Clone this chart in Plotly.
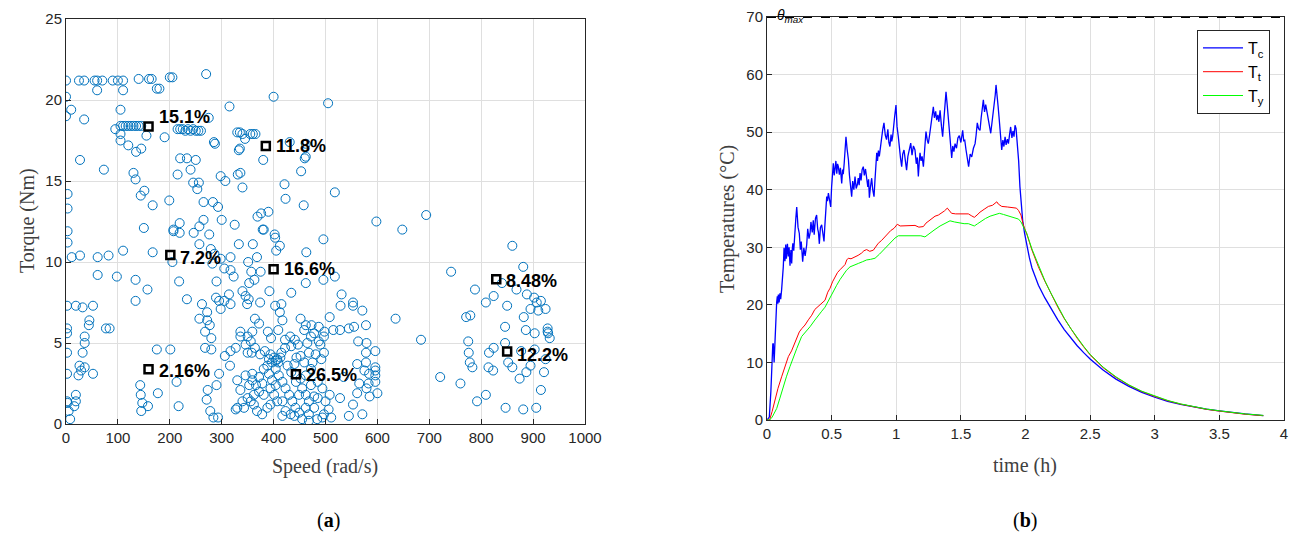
import plotly.graph_objects as go

# ---------------- (a) operating points ----------------
speed = [
    0, 25, 35, 55, 60, 70, 90, 100, 110, 140,
    160, 165, 200, 205, 270, 175, 180, 110, 60, 0,
    400, 505, 10, 105, 315, 0, 35, 275, 105, 110,
    115, 120, 125, 130, 135, 140, 145, 95, 105, 105,
    120, 135, 145, 155, 190, 215, 220, 225, 230, 235,
    240, 245, 250, 255, 260, 285, 330, 335, 340, 345,
    355, 360, 365, 335, 380, 431, 460, 453, 421, 423,
    458, 462, 462, 518, 598, 648, 694, 496, 27, 73,
    3, 3, 3, 3, 130, 134, 144, 151, 167, 150,
    220, 233, 250, 240, 215, 245, 256, 253, 199, 265,
    283, 293, 298, 307, 287, 333, 331, 336, 340, 369,
    376, 390, 379, 219, 265, 300, 325, 207, 207, 246,
    276, 402, 2, 2, 2, 2, 2, 2, 3, 5,
    8, 11, 27, 19, 32, 52, 45, 44, 36, 36,
    32, 26, 36, 29, 24, 52, 19, 19, 16, 61,
    61, 82, 77, 84, 110, 98, 134, 134, 157, 167,
    175, 201, 143, 144, 147, 145, 158, 177, 213, 217,
    205, 218, 233, 219, 257, 257, 262, 257, 272, 268,
    277, 280, 268, 280, 272, 273, 271, 278, 284, 293,
    290, 295, 286, 279, 282, 298, 290, 305, 317, 323,
    333, 317, 340, 352, 349, 336, 336, 327, 317, 306,
    316, 330, 330, 327, 317, 305, 295, 298, 314, 289,
    351, 360, 368, 357, 363, 375, 353, 346, 374, 364,
    372, 359, 350, 356, 346, 350, 358, 364, 374, 383,
    389, 395, 409, 417, 412, 403, 415, 434, 392, 405,
    412, 403, 381, 422, 432, 441, 447, 434, 422, 415,
    444, 452, 459, 468, 465, 472, 459, 452, 462, 487,
    490, 497, 478, 481, 475, 472, 462, 472, 485, 494,
    485, 478, 468, 455, 449, 442, 436, 430, 423, 417,
    410, 404, 397, 391, 388, 394, 401, 407, 413, 404,
    409, 391, 397, 404, 394, 401, 407, 394, 388, 378,
    368, 362, 356, 350, 362, 372, 366, 359, 353, 346,
    359, 372, 381, 378, 381, 417, 423, 433, 417, 449,
    455, 462, 443, 452, 434, 427, 440, 468, 478, 462,
    440, 468, 484, 497, 500, 343, 340, 336, 463, 518,
    462, 496, 531, 529, 553, 553, 571, 508, 473, 498,
    515, 528, 545, 555, 578, 563, 579, 596, 578, 487,
    497, 492, 561, 578, 596, 575, 584, 596, 596, 583,
    596, 565, 535, 579, 600, 585, 561, 528, 508, 553,
    506, 511, 545, 571, 494, 721, 760, 635, 684, 742,
    788, 771, 779, 775, 776, 778, 783, 792, 860, 881,
    840, 868, 824, 809, 850, 888, 902, 907, 915, 895,
    910, 924, 882, 846, 886, 903, 928, 928, 929, 932,
    846, 824, 815, 877, 903, 924, 852, 860, 814, 823,
    895, 887, 874, 921, 915, 809, 847, 881, 906,
]
torque = [
    21.2, 21.2, 21.2, 21.2, 21.2, 21.2, 21.2, 21.2, 21.2, 21.3,
    21.3, 21.3, 21.4, 21.4, 21.6, 20.7, 20.7, 20.6, 20.6, 20.2,
    20.2, 19.8, 19.4, 19.4, 19.6, 19.0, 18.8, 18.9, 18.4, 18.4,
    18.4, 18.4, 18.4, 18.4, 18.4, 18.4, 18.4, 18.2, 17.9, 17.5,
    17.2, 16.8, 17.0, 17.8, 17.7, 18.2, 18.2, 18.2, 18.1, 18.2,
    18.1, 18.2, 18.1, 18.1, 18.1, 17.4, 18.0, 18.0, 17.9, 17.6,
    17.9, 17.9, 17.9, 17.0, 16.3, 17.4, 16.4, 15.6, 14.8, 13.9,
    13.5, 17.3, 16.5, 14.3, 12.5, 12.0, 12.9, 11.4, 16.3, 15.7,
    14.2, 13.3, 11.9, 11.2, 15.5, 15.1, 14.1, 14.4, 13.5, 12.1,
    16.4, 16.4, 16.3, 15.7, 15.4, 14.9, 14.9, 14.5, 13.8, 13.7,
    13.7, 13.4, 15.3, 15.0, 17.3, 16.9, 15.4, 15.5, 14.6, 12.8,
    13.0, 13.1, 12.0, 12.4, 12.6, 12.6, 12.3, 12.0, 11.9, 11.8,
    11.7, 11.7, 7.3, 5.9, 5.6, 4.4, 3.1, 1.4, 1.3, 0.8,
    0.3, 10.3, 10.4, 7.3, 7.2, 7.3, 6.4, 6.1, 5.4, 5.0,
    4.4, 3.6, 3.5, 3.3, 3.0, 3.1, 1.8, 1.4, 1.1, 9.2,
    10.3, 10.4, 5.9, 5.9, 10.7, 9.1, 8.9, 7.6, 8.3, 10.6,
    4.6, 4.6, 2.4, 1.8, 1.3, 0.8, 1.1, 1.9, 2.6, 1.1,
    10.0, 8.8, 7.7, 11.8, 12.2, 11.1, 7.4, 6.5, 6.4, 5.7,
    6.1, 5.3, 4.7, 4.6, 6.9, 2.1, 1.5, 0.8, 0.4, 0.4,
    2.4, 3.1, 10.5, 10.8, 9.9, 10.2, 8.8, 9.6, 9.5, 9.1,
    11.1, 10.3, 8.2, 7.7, 7.4, 5.7, 5.4, 4.7, 4.5, 4.2,
    3.6, 2.7, 1.0, 0.9, 7.4, 7.6, 7.6, 7.1, 8.0, 7.8,
    10.0, 11.1, 10.3, 9.4, 8.9, 9.4, 8.7, 7.9, 7.5, 6.5,
    6.2, 5.7, 5.4, 5.1, 4.9, 4.4, 4.4, 4.7, 4.3, 4.5,
    5.7, 5.3, 5.8, 6.4, 6.9, 7.3, 7.4, 8.1, 8.2, 10.7,
    11.0, 11.5, 12.0, 5.2, 5.4, 5.2, 4.9, 4.8, 4.7, 4.4,
    4.1, 4.2, 3.8, 4.4, 5.0, 5.4, 5.8, 6.5, 6.1, 6.0,
    4.9, 5.4, 5.6, 4.3, 3.8, 3.4, 3.0, 2.4, 2.6, 2.2,
    1.6, 1.0, 0.6, 0.3, 0.7, 1.0, 1.4, 1.8, 2.2, 2.6,
    3.0, 3.4, 3.8, 4.0, 3.6, 4.3, 4.1, 4.0, 4.1, 3.9,
    3.8, 3.1, 2.7, 2.4, 2.2, 1.8, 1.4, 1.2, 1.0, 0.6,
    0.8, 1.2, 1.4, 1.6, 1.8, 2.0, 2.4, 2.7, 2.4, 3.0,
    3.1, 2.9, 3.4, 2.5, 1.8, 1.4, 0.8, 0.6, 0.5, 1.8,
    2.2, 1.8, 2.6, 2.8, 3.2, 3.6, 3.7, 1.4, 1.7, 1.0,
    0.5, 0.2, 0.3, 0.6, 1.4, 1.0, 1.4, 2.1, 10.6, 9.1,
    8.7, 8.9, 8.0, 7.3, 7.5, 7.3, 7.0, 6.6, 6.1, 5.7,
    5.8, 5.8, 5.9, 6.0, 6.1, 5.1, 5.0, 4.5, 4.4, 5.1,
    4.4, 4.0, 3.7, 3.8, 3.5, 3.3, 3.1, 3.3, 3.0, 2.5,
    2.6, 2.5, 2.9, 2.2, 1.9, 1.7, 1.9, 1.6, 1.8, 1.2,
    0.9, 0.4, 0.5, 0.6, 0.4, 2.9, 2.5, 6.5, 5.2, 9.4,
    8.3, 6.6, 6.7, 5.1, 4.4, 3.8, 3.5, 1.4, 11.0, 9.7,
    8.7, 8.3, 7.9, 7.5, 7.3, 8.0, 7.8, 7.5, 7.6, 7.1,
    7.0, 7.1, 6.6, 6.0, 5.8, 5.6, 5.9, 5.7, 5.6, 5.3,
    5.0, 4.7, 4.4, 4.5, 4.6, 4.0, 3.8, 3.5, 3.5, 3.3,
    3.6, 3.2, 2.8, 3.2, 2.1, 1.8, 1.0, 0.9, 1.0,
]

# cluster centres and their shares
centre_speed = [159, 385, 201, 400, 829, 850, 159, 443]
centre_torque = [18.36, 17.16, 10.43, 9.55, 8.93, 4.47, 3.38, 3.07]
centre_label = ["15.1%", "11.8%", "7.2%", "16.6%", "8.48%", "12.2%", "2.16%", "26.5%"]
label_dy = [10, 0, -3, 0, -2, -3, -2, -1]

# ---------------- (b) temperatures ----------------
time_c = [
    0, 0.018, 0.03, 0.036, 0.042, 0.045, 0.049, 0.055, 0.06, 0.065,
    0.07, 0.075, 0.08, 0.084, 0.088, 0.094, 0.1, 0.106, 0.113, 0.12,
    0.126, 0.132, 0.139, 0.145, 0.15, 0.158, 0.165, 0.171, 0.178, 0.185,
    0.191, 0.196, 0.2, 0.207, 0.215, 0.223, 0.23, 0.24, 0.25, 0.258,
    0.265, 0.276, 0.285, 0.295, 0.307, 0.315, 0.325, 0.333, 0.34, 0.35,
    0.358, 0.365, 0.375, 0.384, 0.392, 0.398, 0.405, 0.413, 0.423, 0.432,
    0.441, 0.447, 0.454, 0.462, 0.468, 0.475, 0.484, 0.493, 0.5, 0.507,
    0.513, 0.52, 0.526, 0.533, 0.54, 0.546, 0.552, 0.56, 0.568, 0.578,
    0.585, 0.59, 0.597, 0.604, 0.611, 0.62, 0.63, 0.638, 0.646, 0.655,
    0.663, 0.672, 0.681, 0.69, 0.699, 0.706, 0.713, 0.72, 0.728, 0.736,
    0.745, 0.753, 0.762, 0.771, 0.78, 0.786, 0.792, 0.8, 0.81, 0.818,
    0.828, 0.835, 0.842, 0.849, 0.855, 0.862, 0.869, 0.877, 0.887, 0.895,
    0.905, 0.915, 0.925, 0.935, 0.943, 0.951, 0.96, 0.965, 0.972, 0.98,
    0.988, 0.998, 1.006, 1.016, 1.024, 1.033, 1.042, 1.05, 1.06, 1.07,
    1.08, 1.09, 1.1, 1.112, 1.122, 1.133, 1.145, 1.155, 1.163, 1.171,
    1.178, 1.184, 1.192, 1.2, 1.21, 1.22, 1.23, 1.24, 1.248, 1.258,
    1.268, 1.277, 1.287, 1.295, 1.305, 1.313, 1.322, 1.33, 1.339, 1.35,
    1.359, 1.368, 1.377, 1.385, 1.394, 1.403, 1.412, 1.42, 1.429, 1.437,
    1.446, 1.455, 1.466, 1.477, 1.488, 1.5, 1.514, 1.522, 1.53, 1.54,
    1.55, 1.56, 1.572, 1.584, 1.597, 1.61, 1.618, 1.627, 1.637, 1.648,
    1.657, 1.666, 1.674, 1.683, 1.692, 1.7, 1.71, 1.72, 1.731, 1.742,
    1.752, 1.76, 1.766, 1.772, 1.78, 1.788, 1.795, 1.805, 1.816, 1.825,
    1.833, 1.842, 1.85, 1.86, 1.868, 1.877, 1.885, 1.895, 1.903, 1.911,
    1.919, 1.927, 1.932, 1.937, 1.947, 1.957, 1.968, 1.978, 1.993, 2.009,
    2.03, 2.05, 2.075, 2.1, 2.15, 2.2, 2.25, 2.3, 2.35, 2.4,
    2.45, 2.5, 2.6, 2.7, 2.8, 2.9, 3.0, 3.1, 3.2, 3.3,
    3.4, 3.5, 3.6, 3.7, 3.84,
]
temp_c = [
    0, 0.5, 5, 8.2, 11, 13.3, 13.2, 10, 13, 16,
    18.6, 20.5, 21.5, 20.2, 21.8, 20.4, 22, 21, 22.6, 24.5,
    26.6, 29.9, 27.6, 30.5, 28, 30.6, 28.4, 30, 26.8, 29.5,
    27.2, 29.8, 30.7, 29.4, 33, 35, 37, 33.5, 32.4, 29.6,
    31, 27.5, 29.9, 28.5, 30.4, 33.2, 31.5, 32.4, 34.4, 32.6,
    34.7, 32.2, 35, 35.6, 33.2, 32.6, 30.6, 33.4, 33.9, 32.4,
    31, 33.5, 36.8, 38.8, 38, 39.4, 38.2, 37, 40.5, 43,
    44.6, 42.5, 43.4, 45, 42.8, 44.5, 44, 42.6, 43.8, 41.1,
    43.5, 42.7, 44.5, 47.5, 49.2, 47, 45.2, 42.5, 40.3, 38.8,
    41.5, 40, 42.3, 40.2, 40.9, 42, 40.8, 42.9, 41.6, 43.5,
    44, 42.5, 43.6, 42.3, 40.5, 41.8, 38.6, 40.4, 42, 40,
    38.8, 41.5, 44.5, 46.4, 45, 46.8, 45.8, 47.6, 49.2, 50.4,
    51.6, 49.5, 48.7, 50.5, 48.2, 47.5, 49.6, 48.4, 49.2, 51.5,
    52.8, 54.7, 51, 49.2, 47, 45.5, 44, 46.2, 46.9, 45,
    43.4, 45.8, 47, 48.1, 46, 47.6, 46.9, 44.5, 45.6, 42.3,
    44.8, 46.4, 45, 45.8, 44, 47.5, 50.1, 48.6, 48, 49.5,
    51.5, 53, 54.4, 52.5, 53.6, 52.1, 53, 51.8, 53.8, 51,
    49.2, 52, 54.5, 57, 54.8, 52.7, 50.5, 47.8, 45.5, 47.6,
    46.6, 48, 47.2, 49, 49.4, 48.2, 50.3, 48.5, 48.6, 46.9,
    45.5, 44, 46.2, 45.7, 47.2, 48, 49.5, 51.6, 50.6, 50.3,
    52.5, 54.2, 55.6, 53.5, 54.8, 53.8, 52.2, 51.2, 49.8, 51.6,
    53.3, 55.5, 56.5, 58.2, 55.6, 54.5, 52.7, 49.5, 46.9, 48.6,
    47.5, 49.2, 47.8, 48.8, 48, 49.6, 50.9, 49, 50.2, 49.2,
    51.2, 50.6, 49.5, 48, 45, 40.5, 37.2, 34.7, 32.4, 30.5,
    28.2, 26.4, 24.8, 23.4, 21.2, 19.2, 17.4, 15.7, 14.2, 12.9,
    11.7, 10.6, 8.7, 7.1, 5.85, 4.8, 3.95, 3.25, 2.7, 2.25,
    1.9, 1.6, 1.3, 1.05, 0.75,
]
time_t = [
    0, 0.02, 0.04, 0.062, 0.085, 0.113, 0.14, 0.165, 0.19, 0.216,
    0.25, 0.27, 0.294, 0.32, 0.346, 0.37, 0.397, 0.42, 0.449, 0.47,
    0.488, 0.507, 0.526, 0.545, 0.565, 0.585, 0.604, 0.617, 0.629, 0.65,
    0.68, 0.705, 0.732, 0.75, 0.771, 0.795, 0.823, 0.84, 0.861, 0.887,
    0.913, 0.935, 0.957, 0.983, 1.008, 1.03, 1.055, 1.1, 1.145, 1.175,
    1.21, 1.23, 1.248, 1.274, 1.3, 1.326, 1.351, 1.372, 1.395, 1.41,
    1.428, 1.46, 1.493, 1.525, 1.558, 1.58, 1.604, 1.625, 1.648, 1.68,
    1.713, 1.745, 1.778, 1.79, 1.816, 1.86, 1.907, 1.93, 1.946, 1.965,
    1.983, 2.01, 2.05, 2.1, 2.15, 2.2, 2.25, 2.3, 2.35, 2.4,
    2.45, 2.5, 2.6, 2.7, 2.8, 2.9, 3.0, 3.1, 3.2, 3.3,
    3.4, 3.5, 3.6, 3.7, 3.84,
]
temp_t = [
    0, 0, 1.5, 3.5, 5.5, 7.5, 9.4, 11.0, 12.0, 13.3,
    15.3, 15.9, 16.5, 17.4, 18.2, 19.2, 19.8, 20.2, 20.8, 22.2,
    22.9, 24.0, 24.9, 25.6, 26.1, 26.6, 27.0, 27.8, 28.1, 28.0,
    28.3, 28.6, 29.0, 29.4, 29.6, 29.3, 29.5, 30.0, 30.7, 31.2,
    31.8, 32.4, 32.9, 33.3, 34.0, 33.7, 33.7, 33.8, 33.8, 33.5,
    33.6, 34.2, 34.5, 34.9, 35.4, 35.6, 35.9, 36.3, 36.8, 36.3,
    35.9, 35.8, 35.8, 35.9, 35.8, 35.5, 35.2, 35.6, 36.1, 36.6,
    37.1, 37.3, 37.9, 37.5, 37.1, 37.0, 36.9, 36.8, 36.4, 35.6,
    33.9, 32.3, 29.5, 26.6, 24.1, 21.8, 19.6, 17.6, 15.8, 14.2,
    12.7, 11.3, 9.1, 7.4, 6.05, 4.95, 4.1, 3.35, 2.75, 2.25,
    1.85, 1.55, 1.25, 1.0, 0.75,
]
time_y = [
    0, 0.02, 0.04, 0.075, 0.1, 0.126, 0.15, 0.178, 0.2, 0.23,
    0.268, 0.3, 0.333, 0.365, 0.397, 0.42, 0.449, 0.47, 0.488, 0.51,
    0.539, 0.565, 0.59, 0.615, 0.642, 0.67, 0.707, 0.74, 0.771, 0.8,
    0.836, 0.87, 0.9, 0.93, 0.965, 0.99, 1.016, 1.05, 1.08, 1.12,
    1.158, 1.19, 1.222, 1.25, 1.274, 1.3, 1.339, 1.38, 1.416, 1.45,
    1.493, 1.525, 1.558, 1.58, 1.604, 1.63, 1.661, 1.69, 1.726, 1.76,
    1.798, 1.83, 1.868, 1.9, 1.946, 1.965, 1.985, 2.01, 2.05, 2.1,
    2.15, 2.2, 2.25, 2.3, 2.35, 2.4, 2.45, 2.5, 2.6, 2.7,
    2.8, 2.9, 3.0, 3.1, 3.2, 3.3, 3.4, 3.5, 3.6, 3.7,
    3.84,
]
temp_y = [
    0, 0, 0.5, 2.0, 3.8, 5.8, 7.5, 9.3, 10.7, 12.4,
    14.5, 15.3, 16.2, 17.2, 18.2, 18.8, 19.6, 20.5, 21.4, 22.4,
    23.4, 24.4, 25.2, 26.0, 26.6, 26.9, 27.2, 27.5, 27.8, 27.9,
    28.1, 28.8, 29.5, 30.3, 31.0, 31.6, 32.0, 32.0, 32.0, 32.1,
    32.1, 32.0, 31.8, 32.3, 32.7, 33.1, 33.7, 34.2, 34.6, 34.4,
    34.2, 34.1, 34.1, 33.9, 33.7, 34.1, 34.6, 35.0, 35.4, 35.7,
    35.9, 35.7, 35.4, 35.2, 34.9, 34.4, 33.6, 32.4, 29.7, 26.8,
    24.2, 21.9, 19.7, 17.7, 15.9, 14.3, 12.8, 11.4, 9.2, 7.5,
    6.1, 5.0, 4.15, 3.4, 2.8, 2.3, 1.9, 1.6, 1.3, 1.05,
    0.8,
]
theta_max = 70
time_range = [0, 4]

AX = "#262626"
GRID = "#dfdfdf"
TICKFONT = dict(family="Liberation Sans, Arial, sans-serif", size=15, color=AX)
SERIF = "Liberation Serif, Times New Roman, serif"

fig = go.Figure()

fig.add_trace(go.Scatter(
    x=speed, y=torque, mode="markers", xaxis="x", yaxis="y",
    marker=dict(symbol="circle-open", size=9, color="#0072BD", line=dict(width=1)),
    showlegend=False, hoverinfo="skip"))
fig.add_trace(go.Scatter(
    x=centre_speed, y=centre_torque, mode="markers", xaxis="x", yaxis="y",
    marker=dict(symbol="square-open", size=8, color="black", line=dict(width=2.5)),
    showlegend=False, hoverinfo="skip"))

fig.add_trace(go.Scatter(x=time_c, y=temp_c, mode="lines", xaxis="x2", yaxis="y2",
                         name="T<sub>c</sub>", line=dict(color="#0000FF", width=1.3)))
fig.add_trace(go.Scatter(x=time_t, y=temp_t, mode="lines", xaxis="x2", yaxis="y2",
                         name="T<sub>t</sub>", line=dict(color="#FF0000", width=1)))
fig.add_trace(go.Scatter(x=time_y, y=temp_y, mode="lines", xaxis="x2", yaxis="y2",
                         name="T<sub>y</sub>", line=dict(color="#00FF00", width=1)))
fig.add_trace(go.Scatter(x=time_range, y=[theta_max, theta_max], mode="lines",
                         xaxis="x2", yaxis="y2", showlegend=False, hoverinfo="skip",
                         line=dict(color="black", width=1.8, dash="dash")))

def axis(**kw):
    d = dict(showline=True, linecolor=AX, linewidth=1, mirror=True, ticks="inside",
             ticklen=5, tickcolor=AX, showgrid=True, gridcolor=GRID, gridwidth=1,
             zeroline=False, tickfont=TICKFONT, automargin=False)
    d.update(kw)
    return d

W, H = 1296, 536
def px_x(p):
    return p / W
def px_y(p):
    return (H - p) / H

annotations = []
for sx, ty, lab, dy in zip(centre_speed, centre_torque, centre_label, label_dy):
    annotations.append(dict(x=sx, y=ty, xref="x", yref="y", text="<b>" + lab + "</b>",
                            showarrow=False, xanchor="left", yanchor="middle",
                            xshift=8, yshift=dy,
                            font=dict(family="Liberation Sans, Arial, sans-serif",
                                      size=18, color="black")))

title_font = dict(family=SERIF, size=20, color="#404040")
annotations += [
    dict(x=px_x(27), y=px_y(221), xref="paper", yref="paper", text="Torque (Nm)",
         textangle=-90, showarrow=False, font=title_font, xanchor="center", yanchor="middle"),
    dict(x=px_x(325), y=px_y(467), xref="paper", yref="paper", text="Speed (rad/s)",
         showarrow=False, font=title_font, xanchor="center", yanchor="middle"),
    dict(x=px_x(727), y=px_y(219), xref="paper", yref="paper", text="Temperatures (°C)",
         textangle=-90, showarrow=False, font=title_font, xanchor="center", yanchor="middle"),
    dict(x=px_x(1025), y=px_y(465), xref="paper", yref="paper", text="time (h)",
         showarrow=False, font=title_font, xanchor="center", yanchor="middle"),
    dict(x=px_x(328), y=px_y(520), xref="paper", yref="paper", text="(<b>a</b>)",
         showarrow=False, font=dict(family=SERIF, size=20, color="black"),
         xanchor="center", yanchor="middle"),
    dict(x=px_x(1025), y=px_y(520), xref="paper", yref="paper", text="(<b>b</b>)",
         showarrow=False, font=dict(family=SERIF, size=20, color="black"),
         xanchor="center", yanchor="middle"),
    dict(x=0.06, y=theta_max, xref="x2", yref="y2", text="<i>θ<sub>max</sub></i>",
         showarrow=False, xanchor="left", yanchor="middle", yshift=1,
         font=dict(family="Liberation Sans, Arial, sans-serif", size=14, color="black")),
]

fig.update_layout(
    width=W, height=H,
    margin=dict(l=0, r=0, t=0, b=0, autoexpand=False),
    paper_bgcolor="white", plot_bgcolor="white",
    xaxis=axis(domain=[px_x(66), px_x(585)], range=[0, 1000], dtick=100, anchor="y"),
    yaxis=axis(domain=[px_y(424), px_y(19)], range=[0, 25], dtick=5, anchor="x"),
    xaxis2=axis(domain=[px_x(767), px_x(1284)], range=[0, 4], dtick=0.5, anchor="y2"),
    yaxis2=axis(domain=[px_y(420), px_y(17)], range=[0, 70], dtick=10, anchor="x2"),
    legend=dict(x=px_x(1197), y=px_y(30), xanchor="left", yanchor="top",
                bgcolor="white", bordercolor=AX, borderwidth=1,
                font=dict(family="Liberation Sans, Arial, sans-serif", size=16, color="black"),
                tracegroupgap=0, itemwidth=40),
    annotations=annotations,
    showlegend=True,
)

fig.write_html("out.html", config={"displayModeBar": False},
               post_script="document.body.style.margin='0';document.body.style.padding='0';")
